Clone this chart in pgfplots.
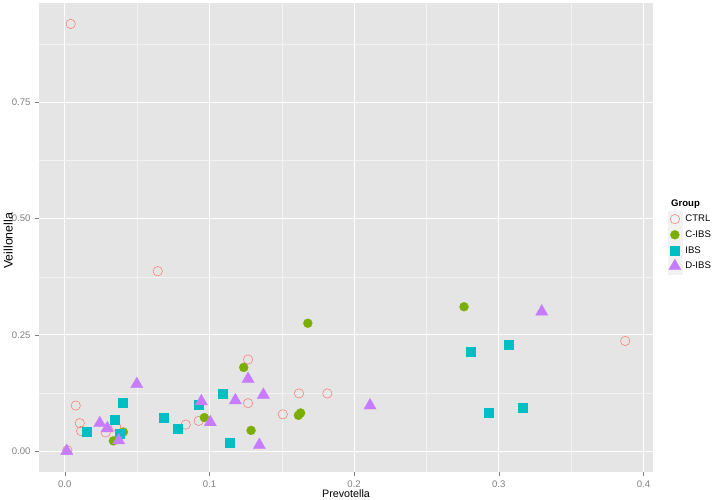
\documentclass[border=0pt]{standalone}
\usepackage{pgfplots}
\pgfplotsset{compat=1.18}
\usepackage{pgfplotstable}
\usepackage{fontspec}
\setmainfont{Liberation Sans}
\definecolor{cCTRL}{HTML}{F8766D}
\definecolor{cCIBS}{HTML}{7CAE00}
\definecolor{cIBS}{HTML}{00BFC4}
\definecolor{cDIBS}{HTML}{C77CFF}
\definecolor{panel}{HTML}{E5E5E5}
\definecolor{minorgrid}{HTML}{F2F2F2}
\definecolor{grey50}{HTML}{7F7F7F}
\definecolor{keybg}{HTML}{F2F2F2}

\pgfplotstableread{
x y
0.0041 0.919
0.0643 0.387
0.0076 0.098
0.0104 0.060
0.0113 0.043
0.0283 0.040
0.0355 0.053
0.0018 0.002
0.0836 0.057
0.0926 0.065
0.1267 0.197
0.1267 0.103
0.1507 0.079
0.1619 0.124
0.1815 0.124
0.3874 0.237
}\ctrl
\pgfplotstableread{
x y
0.0336 0.022
0.0405 0.041
0.0965 0.072
0.1237 0.180
0.1288 0.0445
0.1615 0.077
0.1630 0.082
0.1680 0.275
0.2760 0.3105
}\cibs
\pgfplotstableread{
x y
0.0154 0.042
0.0348 0.068
0.0403 0.104
0.0377 0.038
0.0681 0.0725
0.0783 0.049
0.0928 0.099
0.1092 0.123
0.1138 0.018
0.2803 0.214
0.3070 0.230
0.2928 0.0825
0.3165 0.0925
}\ibs
\pgfplotstableread{
x y
0.0014 0.000
0.0242 0.060
0.0294 0.049
0.0373 0.023
0.0498 0.144
0.0944 0.107
0.1006 0.062
0.1179 0.109
0.1267 0.155
0.1373 0.121
0.1345 0.013
0.2110 0.098
0.3297 0.300
}\dibs

\begin{document}
\begin{tikzpicture}
\path[use as bounding box] (0,0) rectangle (714bp,500bp);
\begin{axis}[
  at={(39bp,28bp)}, anchor=south west,
  scale only axis, width=614bp, height=469bp,
  xmin=-0.0178, xmax=0.4066, ymin=-0.045, ymax=0.964,
  clip=false,
  axis background/.style={fill=panel},
  axis line style={draw=none},
  xtick={0,0.1,0.2,0.3,0.4},
  xticklabels={0.0,0.1,0.2,0.3,0.4},
  ytick={0,0.25,0.5,0.75},
  yticklabels={0.00,0.25,0.50,0.75},
  minor xtick={0.05,0.15,0.25,0.35},
  minor ytick={0.125,0.375,0.625,0.875},
  xtick pos=bottom, ytick pos=left,
  tick align=outside,
  major tick length=4bp, minor tick length=0bp,
  tick style={grey50, line width=0.5bp},
  grid=both,
  major grid style={white, line width=1.1bp},
  minor grid style={minorgrid, line width=0.5bp},
  ticklabel style={font=\fontsize{9.6}{11}\selectfont, text=grey50},
  xticklabel style={yshift=-1bp},
  yticklabel style={xshift=-1bp},
  /pgf/number format/assume math mode=true,
  xlabel={Prevotella}, ylabel={Veillonella},
  xlabel style={font=\fontsize{10.8}{13}\selectfont, at={(axis description cs:0.5,-0.0463)}, anchor=center, inner sep=0pt},
  ylabel style={font=\fontsize{12.4}{14}\selectfont, at={(axis description cs:-0.050,0.493)}, anchor=center, inner sep=0pt},
  legend style={at={(axis description cs:1.0239,0.556)}, anchor=north west,
    draw=none, fill=none, inner sep=0pt, outer sep=0pt,
    column sep=3.3bp, row sep=0pt,
    nodes={inner sep=0pt, minimum height=15.7bp, font=\fontsize{9.6}{11}\selectfont}},
  legend cell align=left,
  legend image code/.code={\fill[keybg] (0bp,-7.6bp) rectangle (14bp,7.6bp); \draw[#1] plot coordinates {(7bp,0bp)};},
]
\addplot[only marks, mark=o, mark size=4.7bp, mark options={draw=cCTRL, line width=0.5bp}] table[x=x,y=y] {\ctrl};
\addlegendentry{CTRL}
\addplot[only marks, mark=*, mark size=4.5bp, mark options={draw=cCIBS, fill=cCIBS, line width=0.3bp}] table[x=x,y=y] {\cibs};
\addlegendentry{C-IBS}
\addplot[only marks, mark=square*, mark size=4.5bp, mark options={draw=cIBS, fill=cIBS, line width=0.3bp}] table[x=x,y=y] {\ibs};
\addlegendentry{IBS}
\addplot[only marks, mark=triangle*, mark size=7.1bp, mark options={draw=cDIBS, fill=cDIBS, line width=0.3bp}] table[x=x,y=y] {\dibs};
\addlegendentry{D-IBS}
\node[anchor=west, font=\bfseries\fontsize{9.6}{11}\selectfont] at (axis description cs:1.0239,0.5714) {Group};
\end{axis}
\end{tikzpicture}
\end{document}
